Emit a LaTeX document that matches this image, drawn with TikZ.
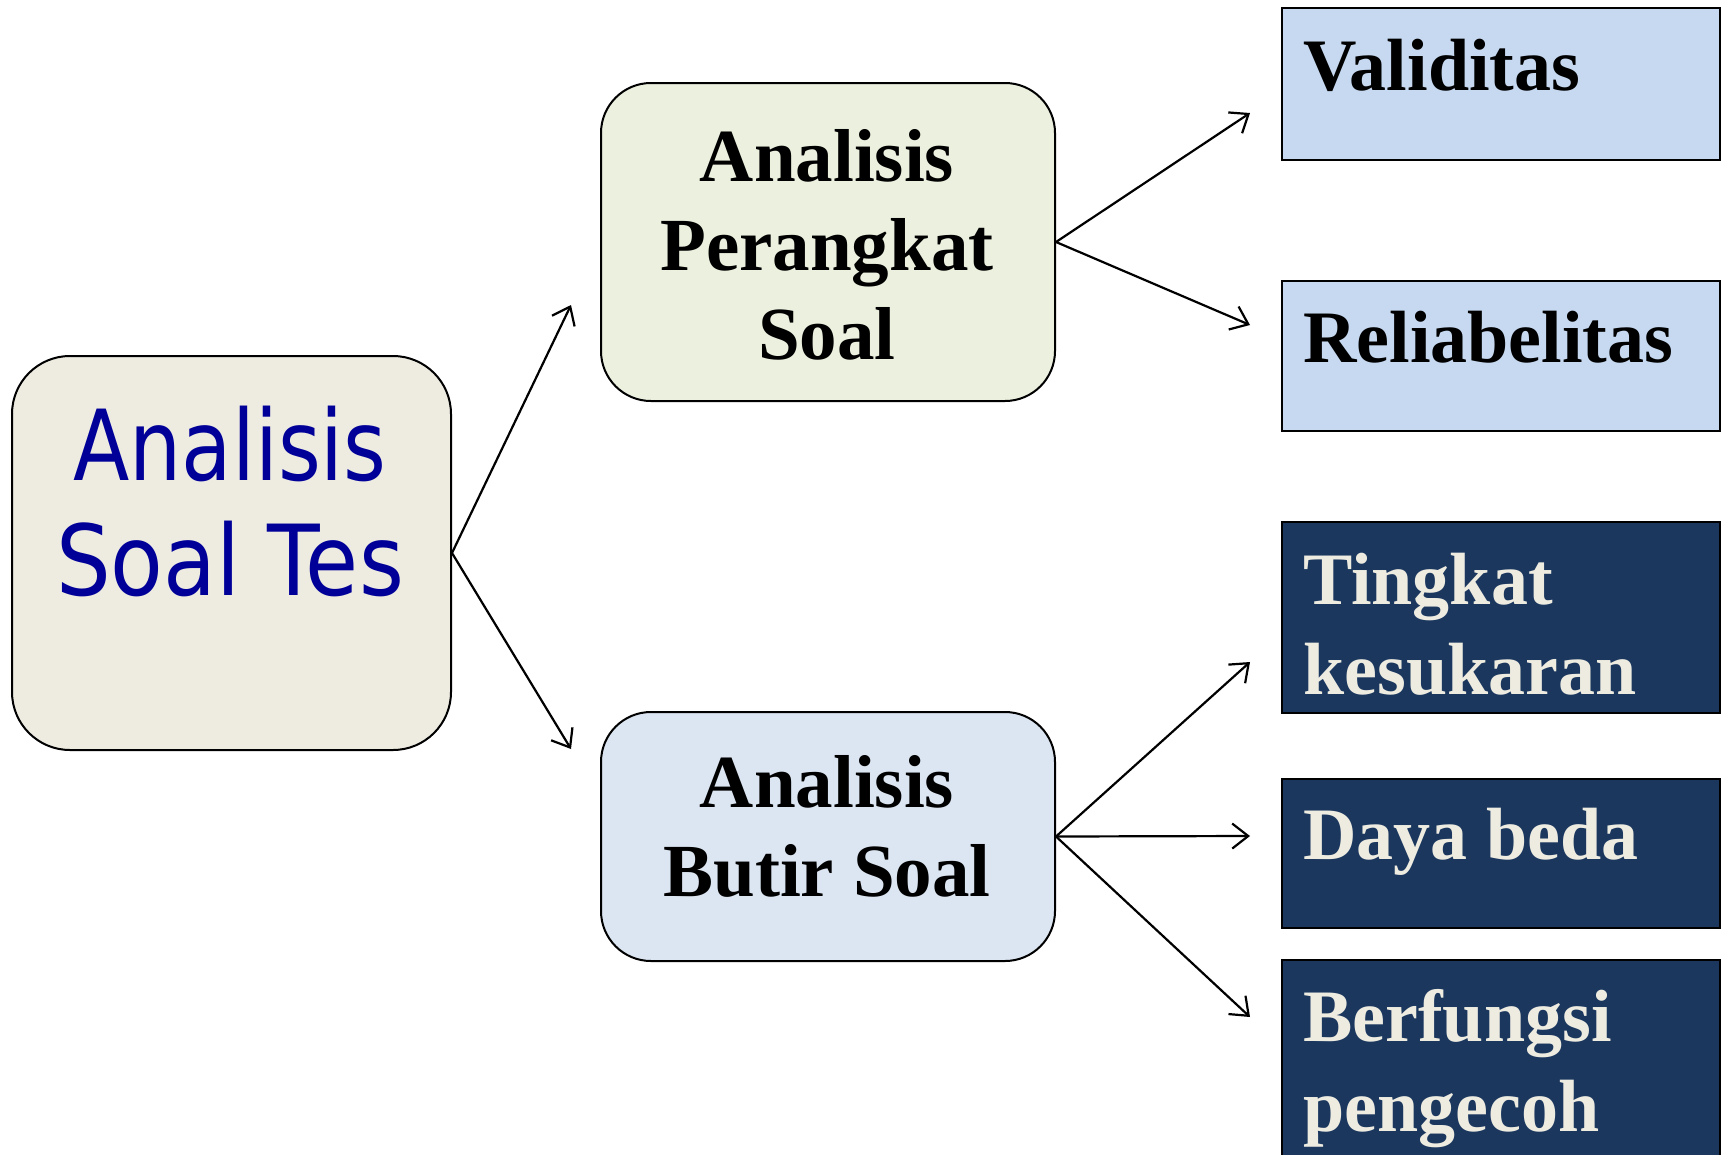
\documentclass[tikz,border=0pt]{standalone}
\usepackage{fontspec}
\setmainfont{Liberation Serif}
\newfontfamily\tahfont[FakeStretch=0.84]{DejaVu Sans}
\newfontfamily\tahwfont[FakeStretch=0.88]{DejaVu Sans}
\usetikzlibrary{arrows.meta}
\definecolor{cA}{HTML}{EEECE1}
\definecolor{cB}{HTML}{EBF1DE}
\definecolor{cC}{HTML}{DCE6F2}
\definecolor{cLight}{HTML}{C6D9F1}
\definecolor{cDark}{RGB}{27,55,94}
\definecolor{cCream}{HTML}{EEECE1}
\definecolor{cBlueTxt}{RGB}{0,0,153}
\tikzset{
  rbox/.style={draw=black, line width=2pt, rounded corners=50pt, inner sep=0pt, anchor=north west},
  lightbox/.style={draw=black, line width=1.8pt, fill=cLight, inner sep=0pt, anchor=north west, minimum width=438pt},
  darkbox/.style={draw=black, line width=1.8pt, fill=cDark, inner sep=0pt, anchor=north west, minimum width=438pt},
  sertxt/.style={font=\bfseries\fontsize{74}{89}\selectfont, inner sep=0pt, anchor=base west},
  midtxt/.style={font=\bfseries\fontsize{75}{89}\selectfont, inner sep=0pt, anchor=base},
  arr/.style={-{Straight Barb[length=16pt,width=25pt]}, line width=2.2pt}
}
\begin{document}
\begin{tikzpicture}[x=1pt,y=-1pt]
\useasboundingbox (0,0) rectangle (1721,1154);
\clip (0,0) rectangle (1721,1154);
\fill[white] (0,0) rectangle (1721,1154);
% boxes
\node[rbox, fill=cA, rounded corners=58pt, minimum width=439pt, minimum height=394pt] (A) at (11,355) {};
\node[rbox, fill=cB, minimum width=454pt, minimum height=318pt] (B) at (600,82) {};
\node[rbox, fill=cC, minimum width=454pt, minimum height=249pt] (C) at (600,711) {};
\node[lightbox, minimum height=152pt] (val) at (1281,7) {};
\node[lightbox, minimum height=150pt] (rel) at (1281,280) {};
\node[darkbox, minimum height=191pt] (tin) at (1281,521) {};
\node[darkbox, minimum height=149pt] (day) at (1281,778) {};
\node[darkbox, minimum height=240pt] (ber) at (1281,959) {};
% texts
\node[inner sep=0pt, anchor=base, text=cBlueTxt, font=\tahfont\fontsize{98}{115}\selectfont] (tA) at (230,480)
  {\begin{tabular}[t]{@{}c@{}}Analisis\\{\tahwfont Soal Tes}\end{tabular}};
\node[midtxt] (tB) at (827,181) {\begin{tabular}[t]{@{}c@{}}Analisis\\Perangkat\\Soal\end{tabular}};
\node[midtxt] (tC) at (827,807) {\begin{tabular}[t]{@{}c@{}}Analisis\\Butir Soal\end{tabular}};
\node[sertxt] (tval) at ([xshift=22pt,yshift=-83pt]val.north west) {Validitas};
\node[sertxt] (trel) at ([xshift=22pt,yshift=-82pt]rel.north west) {Reliabelitas};
\node[sertxt, text=cCream, font=\bfseries\fontsize{74}{90}\selectfont] (ttin) at ([xshift=22pt,yshift=-83pt]tin.north west)
  {\begin{tabular}[t]{@{}l@{}}Tingkat\\kesukaran\end{tabular}};
\node[sertxt, text=cCream] (tday) at ([xshift=22pt,yshift=-81pt]day.north west) {Daya beda};
\node[sertxt, text=cCream, font=\bfseries\fontsize{74}{90}\selectfont] (tber) at ([xshift=22pt,yshift=-82pt]ber.north west)
  {\begin{tabular}[t]{@{}l@{}}Berfungsi\\pengecoh\end{tabular}};
% arrow end points
\coordinate (pB) at (571,305);
\coordinate (pC) at (571,749);
\coordinate (pVal) at (1250,113);
\coordinate (pRel) at (1250,325);
\coordinate (pTin) at (1250,662);
\coordinate (pDay) at (1250,836);
\coordinate (pBer) at (1250,1017);
% connectors
\draw[arr] (A.east) -- (pB);
\draw[arr] (A.east) -- (pC);
\draw[arr] (B.east) -- (pVal);
\draw[arr] (B.east) -- (pRel);
\draw[arr] (C.east) -- (pTin);
\draw[arr] (C.east) -- (pDay);
\draw[arr] (C.east) -- (pBer);
\end{tikzpicture}
\end{document}
